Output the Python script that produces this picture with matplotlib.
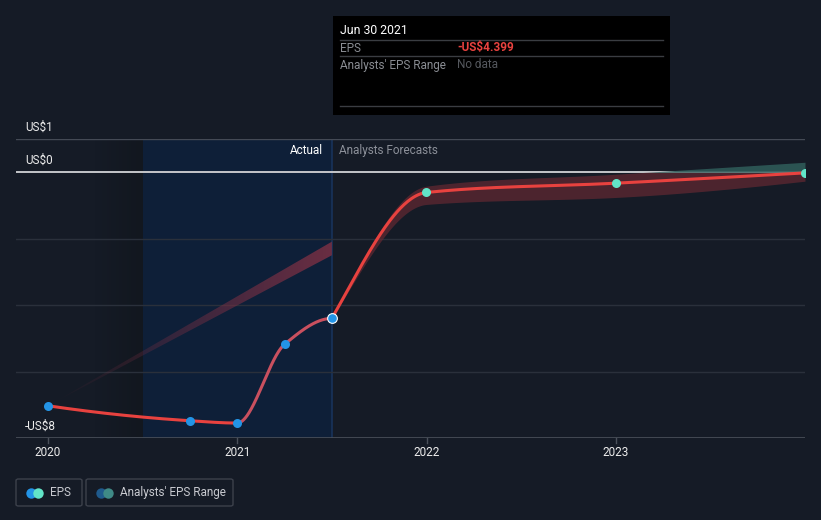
#!/usr/bin/env python
# coding=utf-8
import numpy as np
import matplotlib
matplotlib.use('Agg')
import matplotlib.pyplot as plt
from matplotlib.patches import Rectangle, FancyBboxPatch, Polygon

# EPS actuals (year fraction, US$)
actual_x = [2020.0, 2020.75, 2021.0, 2021.25, 2021.5]
actual_eps = [-7.03, -7.48, -7.55, -5.18, -4.399]

# analyst forecasts
fc_x = [2021.5, 2022.0, 2023.0, 2024.0]
fc_eps = [-4.399, -0.61, -0.33, -0.02]
fc_high = [-4.399, -0.42, -0.06, 0.30]
fc_low = [-4.399, -0.97, -0.76, -0.27]

# older forecast band shown over the actual period
old_x = [2020.0, 2021.5]
old_high = [-7.03, -2.09]
old_low = [-7.03, -2.50]

year_ticks = [2020, 2021, 2022, 2023]
y_labels = {1: 'US$1', 0: 'US$0', -8: '-US$8'}

BG = '#151b26'
RED = '#e8423f'
BLUE = '#2394e6'
TEAL = '#62e5c8'


def pchip(x, y, xs):
    # monotone cubic, used only to draw smooth curves through the points
    x = np.asarray(x, float)
    y = np.asarray(y, float)
    h = np.diff(x)
    d = np.diff(y) / h
    m = np.zeros_like(y)
    for k in range(1, len(x) - 1):
        if d[k - 1] * d[k] > 0:
            w1 = 2 * h[k] + h[k - 1]
            w2 = h[k] + 2 * h[k - 1]
            m[k] = (w1 + w2) / (w1 / d[k - 1] + w2 / d[k])
    m[0] = d[0] if len(d) == 1 else ((2 * h[0] + h[1]) * d[0] - h[0] * d[1]) / (h[0] + h[1])
    if m[0] * d[0] <= 0:
        m[0] = 0
    if len(d) > 1:
        m[-1] = ((2 * h[-1] + h[-2]) * d[-1] - h[-1] * d[-2]) / (h[-1] + h[-2])
        if m[-1] * d[-1] <= 0:
            m[-1] = 0
    idx = np.clip(np.searchsorted(x, xs) - 1, 0, len(x) - 2)
    t = (xs - x[idx]) / h[idx]
    h00 = 2 * t ** 3 - 3 * t ** 2 + 1
    h10 = t ** 3 - 2 * t ** 2 + t
    h01 = -2 * t ** 3 + 3 * t ** 2
    h11 = t ** 3 - t ** 2
    return (h00 * y[idx] + h10 * h[idx] * m[idx] +
            h01 * y[idx + 1] + h11 * h[idx] * m[idx + 1])


fig = plt.figure(figsize=(8.21, 5.2), dpi=100, facecolor=BG)
plt.rcParams['font.family'] = ['Roboto', 'DejaVu Sans']

W, H = 821.0, 520.0
ax = fig.add_axes([16 / W, (H - 438) / H, (805 - 16) / W, (438 - 139) / H])
ax.set_facecolor(BG)
x0, x1 = 2020 - 32 / 189.3, 2024.0
ax.set_xlim(x0, x1)
ax.set_ylim(-8, 1)
for s in ax.spines.values():
    s.set_visible(False)
ax.set_xticks([])
ax.set_yticks([])

# past region shading
grad = np.linspace(0, 1, 100).reshape(1, -1)
ax.imshow(grad, extent=[2020.25, 2020.5, -8, 1], aspect='auto',
          cmap=matplotlib.colors.LinearSegmentedColormap.from_list('g', [BG, '#12171f']),
          zorder=0)
ax.axvspan(2020.5, 2021.5, color='#0e1f38', zorder=0.5, lw=0)
ax.axvline(2021.5, color='#18335a', lw=1.2, zorder=1)

# grid lines
for v in [-6, -4, -2]:
    ax.axhline(v, color='#2a303b', lw=1, zorder=1)
ax.axhline(-8, color='#4a505a', lw=1.2, zorder=1)
ax.axhline(1, color='#444a55', lw=1, zorder=1)
ax.axhline(0, color='#c4c6ca', lw=1.4, zorder=1)

# older forecast stripe with fading
poly = Polygon([[old_x[0], old_high[0]], [old_x[1], old_high[1]],
                [old_x[1], old_low[1]], [old_x[0], old_low[0]]],
               closed=True, facecolor='none', edgecolor='none')
ax.add_patch(poly)
cmap_old = matplotlib.colors.LinearSegmentedColormap.from_list(
    'o', [(0.48, 0.19, 0.27, 0.0), (0.48, 0.19, 0.27, 0.85)])
im = ax.imshow(grad, extent=[old_x[0], old_x[1], -8, 1], aspect='auto',
               cmap=cmap_old, zorder=2)
im.set_clip_path(poly)

# forecast band
xs = np.linspace(fc_x[0], fc_x[-1], 400)
hi = pchip(fc_x, fc_high, xs)
lo = pchip(fc_x, fc_low, xs)
ax.fill_between(xs, lo, np.minimum(hi, 0), where=lo < 0, color='#6a2a33',
                alpha=0.65, lw=0, zorder=2)
ax.fill_between(xs, np.maximum(lo, 0), hi, where=hi > 0, color='#2e5a58',
                alpha=0.9, lw=0, zorder=2)

# EPS lines
xa = np.linspace(actual_x[0], actual_x[2], 200)
ax.plot(xa, pchip(actual_x, actual_eps, xa), color=RED, lw=2.2, zorder=3,
        solid_capstyle='round')
xb = np.linspace(actual_x[2], actual_x[-1], 200)
ax.plot(xb, pchip(actual_x, actual_eps, xb), color='#c9505f', lw=2.2, zorder=3,
        solid_capstyle='round')
ax.plot(xs, pchip(fc_x, fc_eps, xs), color=RED, lw=2.2, zorder=3)

ax.plot(actual_x[:-1], actual_eps[:-1], 'o', color=BLUE, ms=6.5, mew=0, zorder=4)
ax.plot(actual_x[-1], actual_eps[-1], 'o', color=BLUE, ms=7, mec='white',
        mew=0.8, zorder=4)
ax.plot(fc_x[1:], fc_eps[1:], 'o', color=TEAL, ms=6.5, mew=0, zorder=4)

# y labels inside plot
for v, lab in y_labels.items():
    ax.text(x0 + 9 / 189.3, v + 0.36, lab, color='#ececec', fontsize=8.5,
            va='center', ha='left', zorder=5)

ax.text(2021.5 - 9 / 189.3, 0.64, 'Actual', color='#ffffff', fontsize=8.5,
        ha='right', va='center', zorder=5)
ax.text(2021.5 + 7 / 189.3, 0.64, 'Analysts Forecasts', color='#8c9099',
        fontsize=8.5, ha='left', va='center', zorder=5)

# x tick labels
for yr in year_ticks:
    px = 48 + (yr - 2020) * 189.3
    fig.lines.append(plt.Line2D([px / W, px / W], [(H - 438) / H, (H - 443) / H],
                                transform=fig.transFigure, color='#4a505a', lw=1))
    fig.text(px / W, (H - 452) / H, str(yr), color='#ececec', fontsize=8.5,
             ha='center', va='center')

# tooltip
fig.patches.append(Rectangle((333 / W, (H - 115) / H), (670 - 333) / W, 99 / H,
                             transform=fig.transFigure, facecolor='#000000',
                             edgecolor='none', zorder=10))
for yy in [40, 56, 106]:
    fig.lines.append(plt.Line2D([340 / W, 663 / W], [(H - yy) / H] * 2,
                                transform=fig.transFigure, color='#3a3d42',
                                lw=1, zorder=11))
fig.text(340 / W, (H - 31) / H, 'Jun 30 2021', color='#ffffff', fontsize=8.8,
         va='center', zorder=12)
fig.text(340 / W, (H - 48) / H, 'EPS', color='#8a8d93', fontsize=8.5,
         va='center', zorder=12)
fig.text(457 / W, (H - 48) / H, '-US$4.399', color='#e8423f', fontsize=8.5,
         va='center', fontweight='bold', zorder=12)
fig.text(340 / W, (H - 65) / H, "Analysts' EPS Range", color='#8a8d93',
         fontsize=8.5, va='center', zorder=12)
fig.text(457 / W, (H - 65) / H, 'No data', color='#55585e', fontsize=8.5,
         va='center', zorder=12)

# legend boxes
def legend_box(xl, xr, c1, c2, label):
    fig.patches.append(FancyBboxPatch((xl / W, (H - 506) / H), (xr - xl) / W,
                                      27 / H, boxstyle='round,pad=0,rounding_size=0.003',
                                      transform=fig.transFigure, facecolor='none',
                                      edgecolor='#3c414b', lw=1))
    cy = (H - 492.5) / H
    fig.lines.append(plt.Line2D([(xl + 15) / W], [cy], marker='o', ms=7.5,
                                color=c1, mew=0, transform=fig.transFigure))
    fig.lines.append(plt.Line2D([(xl + 22) / W], [cy], marker='o', ms=7.5,
                                color=c2, mew=0, transform=fig.transFigure))
    fig.text((xl + 34) / W, cy, label, color='#c8cad0', fontsize=8.5, va='center')


legend_box(16, 82, BLUE, TEAL, 'EPS')
legend_box(86, 233, '#1f5a8c', '#3f8a86', "Analysts' EPS Range")

fig.savefig('out.png', dpi=100, facecolor=BG)
